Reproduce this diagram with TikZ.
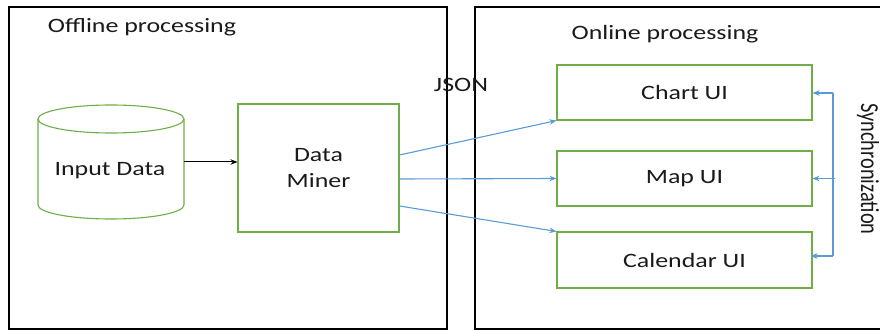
\documentclass[tikz,border=0pt]{standalone}
\usepackage{fontspec}
\setmainfont[FakeStretch=1.27]{Carlito}
\newfontfamily\plainfont{Carlito}
\usetikzlibrary{arrows.meta}
\definecolor{boxgreen}{HTML}{70AD47}
\definecolor{linkblue}{HTML}{5B9BD5}
\definecolor{ink}{HTML}{1A1A1A}
\tikzset{
  panel/.style={draw=black, line width=2pt},
  gbox/.style={draw=boxgreen, line width=1.1pt, inner sep=0pt, text=ink, align=center},
  lbl/.style={text=ink, inner sep=0pt},
  flow/.style={draw=linkblue, line width=1.1pt, -{Stealth[length=7pt,width=5.5pt]}},
  feed/.style={draw=black, line width=1pt, -{Stealth[length=7pt,width=5.5pt]}}
}
\begin{document}
\begin{tikzpicture}[x=1pt,y=-1pt,font=\fontsize{20.4}{26}\selectfont]
\useasboundingbox (0,0) rectangle (880,331);
\begin{scope}
\clip (0,0) rectangle (880,331);
% processing panels
\draw[panel] (9,7) rectangle (447,329);
\draw[panel] (475,7) rectangle (890,329);
\end{scope}
\node[lbl] (offt) at (142,27) {Offline processing};
\node[lbl] (ont) at (665,34) {Online processing};
\node[lbl] (json) at (461,85) {JSON};

% input data cylinder
\node[inner sep=0pt, minimum width=146pt, minimum height=114pt] (db) at (111,162) {};
\draw[boxgreen, line width=1.1pt, fill=white]
  (38,119) -- (38,205) arc[start angle=180, end angle=360, x radius=73, y radius=-14]
  -- (184,119);
\draw[boxgreen, line width=1.1pt] (111,119) ellipse[x radius=73, y radius=14];
\node[lbl] (dbt) at (110,171) {Input Data};

% data miner
\node[gbox, minimum width=161pt, minimum height=128pt] (dm) at (318.5,168) {Data\\Miner};

% online views
\node[gbox, minimum width=255pt, minimum height=55pt] (chart) at (684.5,92.5) {Chart UI};
\node[gbox, minimum width=255pt, minimum height=55pt] (map) at (684.5,178.5) {Map UI};
\node[gbox, minimum width=255pt, minimum height=56pt] (cal) at (684.5,260) {Calendar UI};

% connectors
\draw[feed] (db.east) -- (db.east -| dm.west);
\draw[flow] ([yshift=13pt]dm.east) -- (chart.south west);
\draw[flow] ([yshift=-11pt]dm.east) -- (map.west);
\draw[flow] ([yshift=-38pt]dm.east) -- (cal.north west);

% synchronization bus
\coordinate (stop) at (833,93);
\coordinate (sbot) at (833,256);
\coordinate (smid) at (835,178.5);
\draw[linkblue, line width=1.1pt] (stop) -- (sbot);
\draw[flow] (stop) -- (stop -| chart.east);
\draw[flow] (smid) -- (map.east);
\draw[flow] (sbot) -- ([xshift=-2pt]sbot -| cal.east);
\node[lbl, rotate=-90] (sync) at (868,169)
  {\plainfont\scalebox{1}[1.27]{Synchronization}};
\end{tikzpicture}
\end{document}
